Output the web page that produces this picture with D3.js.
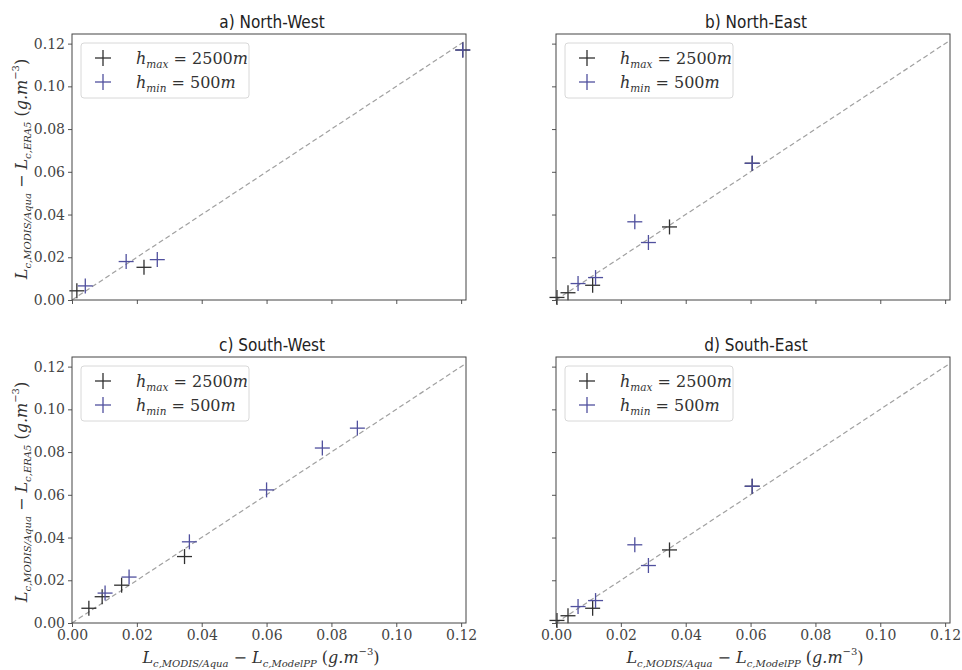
<!DOCTYPE html>
<html><head><meta charset="utf-8">
<script src="https://cdn.jsdelivr.net/npm/d3@7"></script>
<style>
body{margin:0;background:#fff}svg{display:block}
.serif, .serif tspan, .tick text{font-family:"DejaVu Serif","Liberation Serif",serif !important;}
.ttl{font-family:"DejaVu Sans Condensed","Liberation Sans Narrow","DejaVu Sans",sans-serif;}
</style>
</head><body>
<svg id="c" width="962" height="670"></svg>
<script>
// ---- data ----
const panelTitles = ["a) North-West", "b) North-East", "c) South-West", "d) South-East"];
const ticks = [0, 0.02, 0.04, 0.06, 0.08, 0.10, 0.12];
const legendLabels = [["h","max","2500"], ["h","min","500"]];
const xAxisMax = 0.1215;
const yAxisMax = 0.1245;
// hmax = 2500m (black)
const nwMax = [[0.0015, 0.0043], [0.0222, 0.0153], [0.1205, 0.117]];
const neMax = [[0.0003, 0.0012], [0.0037, 0.0034], [0.0113, 0.0069], [0.035, 0.0342], [0.0605, 0.064]];
const swMax = [[0.0052, 0.0069], [0.0093, 0.0123], [0.0153, 0.0177], [0.0347, 0.0311]];
const seMax = [[0.0003, 0.0012], [0.0037, 0.0034], [0.0113, 0.0069], [0.035, 0.0342], [0.0605, 0.064]];
// hmin = 500m (blue)
const nwMin = [[0.0041, 0.0066], [0.0167, 0.018], [0.0263, 0.0189], [0.1205, 0.117]];
const neMin = [[0.0068, 0.0077], [0.0122, 0.0105], [0.0243, 0.0366], [0.0285, 0.0269], [0.0605, 0.064]];
const swMin = [[0.0102, 0.014], [0.0176, 0.0215], [0.0362, 0.038], [0.06, 0.0623], [0.0772, 0.0819], [0.088, 0.0912]];
const seMin = [[0.0068, 0.0077], [0.0122, 0.0105], [0.0243, 0.0366], [0.0285, 0.0269], [0.0605, 0.064]];
const maxSeries = [nwMax, neMax, swMax, seMax];
const minSeries = [nwMin, neMin, swMin, seMin];

// ---- layout ----
const boxes = [
  {l:72, r:466, t:34, b:300, xl:false, yl:true},
  {l:556, r:950, t:34, b:300, xl:false, yl:false},
  {l:72, r:466, t:357, b:623, xl:true, yl:true},
  {l:556, r:950, t:357, b:623, xl:true, yl:false}
];
const colMax = "#303030", colMin = "#50509e";
const svg = d3.select("#c");

function mathLabel(sel, parts, big, small){
  parts.forEach((p,i)=>{
    const prev = i>0 ? parts[i-1][1] : 'n';
    let dy = 0;
    if (p[1]==='sub') dy = (prev==='sup') ? 10 : 4;
    else if (p[1]==='sup') dy = (prev==='sub') ? -12 : -8;
    else dy = prev==='sub' ? -4 : prev==='sup' ? 8 : 0;
    sel.append("tspan").attr("dy", dy)
      .style("font-size", (p[1]==='n' ? big : small) + "px")
      .style("font-style", p[2]===false ? "normal" : "italic")
      .text(p[0]);
  });
}

boxes.forEach((bx, i)=>{
  const x = d3.scaleLinear().domain([0, xAxisMax]).range([bx.l, bx.r]);
  const y = d3.scaleLinear().domain([0, yAxisMax]).range([bx.b, bx.t]);
  const g = svg.append("g");

  // title
  g.append("text").attr("class","ttl").attr("x", (bx.l+bx.r)/2 + 3).attr("y", bx.t-6)
    .attr("text-anchor","middle").style("font-size","17px").attr("fill","#222").text(panelTitles[i]);

  // axes
  const xa = d3.axisBottom(x).tickValues(ticks).tickSize(4).tickPadding(3)
    .tickFormat(bx.xl ? d3.format(".2f") : () => "");
  const ya = d3.axisLeft(y).tickValues(ticks).tickSize(4).tickPadding(3)
    .tickFormat(bx.yl ? d3.format(".2f") : () => "");
  const gx = g.append("g").attr("transform", `translate(0,${bx.b})`).call(xa);
  const gy = g.append("g").attr("transform", `translate(${bx.l},0)`).call(ya);
  [gx, gy].forEach(a=>{
    a.attr("font-family", null).attr("font-size", null);
    a.select(".domain").remove();
    a.selectAll("line").attr("stroke","#555");
    a.selectAll("text").style("font-size","14px").attr("fill","#444");
  });

  // diagonal
  const dm = Math.min(xAxisMax, yAxisMax);
  g.append("line").attr("x1", x(0)).attr("y1", y(0)).attr("x2", x(dm)).attr("y2", y(dm))
    .attr("stroke","#a0a0a0").attr("stroke-width",1.2).attr("stroke-dasharray","5,3");

  // markers
  const plus = (sel, data, col) => {
    const m = sel.selectAll(null).data(data).enter().append("g")
      .attr("transform", d => `translate(${x(d[0])},${y(d[1])})`);
    m.append("line").attr("x1",-7.5).attr("x2",7.5).attr("stroke",col).attr("stroke-width",1.3);
    m.append("line").attr("y1",-7.5).attr("y2",7.5).attr("stroke",col).attr("stroke-width",1.3);
  };
  plus(g, maxSeries[i], colMax);
  plus(g, minSeries[i], colMin);

  // frame
  g.append("rect").attr("x", bx.l).attr("y", bx.t).attr("width", bx.r-bx.l).attr("height", bx.b-bx.t)
    .attr("fill","none").attr("stroke","#444").attr("stroke-width",1);

  // legend
  const lg = g.append("g").attr("transform", `translate(${bx.l+9},${bx.t+9})`);
  lg.append("rect").attr("width",168).attr("height",55).attr("rx",3)
    .attr("fill","#fff").attr("fill-opacity",0.8).attr("stroke","#d8d8d8");
  legendLabels.forEach((lab, j)=>{
    const yy = 15 + j*24;
    const col = j===0 ? colMax : colMin;
    lg.append("line").attr("x1",14).attr("x2",30).attr("y1",yy).attr("y2",yy).attr("stroke",col).attr("stroke-width",1.3);
    lg.append("line").attr("x1",22).attr("x2",22).attr("y1",yy-8).attr("y2",yy+8).attr("stroke",col).attr("stroke-width",1.3);
    const t = lg.append("text").attr("class","serif").attr("x",55).attr("y",yy+6).attr("fill","#333");
    mathLabel(t, [[lab[0],'n'],[lab[1],'sub'],[" = "+lab[2],'n',false],["m",'n']], 16, 10.5);
  });

  // axis labels
  if (bx.yl){
    const cy = (bx.t+bx.b)/2 + 2;
    const t = g.append("text").attr("class","serif").attr("transform", `translate(27,${cy}) rotate(-90)`)
      .attr("text-anchor","middle").attr("fill","#333");
    mathLabel(t, [["L",'n'],["c,MODIS/Aqua",'sub'],[" − ",'n',false],["L",'n'],["c,ERA5",'sub'],[" (",'n',false],["g.m",'n'],["−3",'sup',false],[")",'n',false]], 16, 10);
  }
  if (bx.xl){
    const t = g.append("text").attr("class","serif").attr("x",(bx.l+bx.r)/2 - 8).attr("y",bx.b+40)
      .attr("text-anchor","middle").attr("fill","#333");
    mathLabel(t, [["L",'n'],["c,MODIS/Aqua",'sub'],[" − ",'n',false],["L",'n'],["c,ModelPP",'sub'],[" (",'n',false],["g.m",'n'],["−3",'sup',false],[")",'n',false]], 16, 10);
  }
});
</script>
</body></html>
